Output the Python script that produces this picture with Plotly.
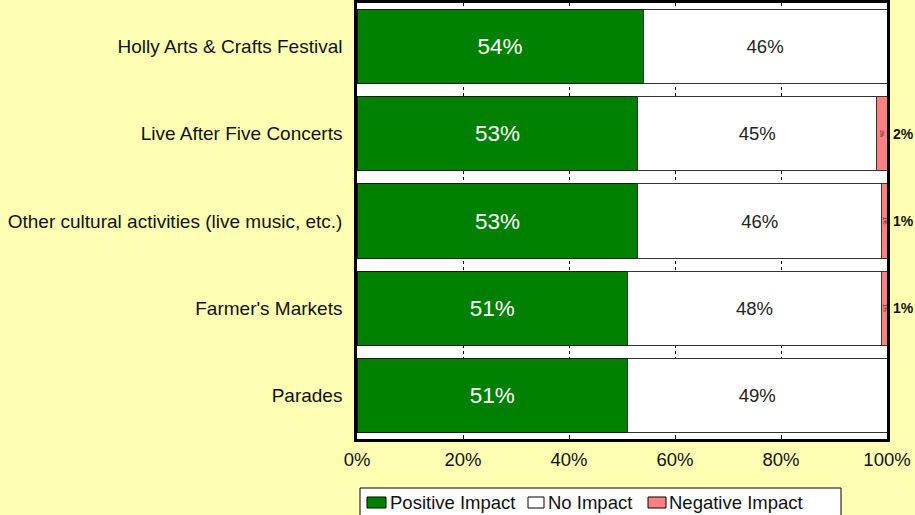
import plotly.graph_objects as go

categories = [
    "Holly Arts & Crafts Festival",
    "Live After Five Concerts",
    "Other cultural activities (live music, etc.)",
    "Farmer's Markets",
    "Parades",
]
positive = [54, 53, 53, 51, 51]
no_impact = [46, 45, 46, 48, 49]
negative = [0, 2, 1, 1, 0]
tick_vals = [0, 20, 40, 60, 80, 100]
tick_text = ["0%", "20%", "40%", "60%", "80%", "100%"]

series_names = ["Positive Impact", "No Impact", "Negative Impact"]
series_colors = ["#008000", "#FFFFFF", "#FF8080"]

FONT = "Liberation Sans, Arial, sans-serif"
W, H = 915, 515
M_L, M_R, M_T, M_B = 357, 28, 3, 76
PLOT_W = W - M_L - M_R
PLOT_H = H - M_T - M_B


def px(x):
    """Horizontal page pixel -> paper fraction."""
    return (x - M_L) / PLOT_W


def py(y):
    """Vertical page pixel (from top) -> paper fraction."""
    return (H - M_B - y) / PLOT_H


def labels(vals):
    return [f"{v}%" if v > 0 else "" for v in vals]


fig = go.Figure()
fig.add_trace(go.Bar(
    y=categories, x=positive, orientation="h", name=series_names[0],
    marker=dict(color=series_colors[0], line=dict(color="#1a1a1a", width=1)),
    text=labels(positive), textposition="inside", insidetextanchor="middle",
    textfont=dict(color="white", size=22.5, family=FONT),
    hoverinfo="skip",
))
fig.add_trace(go.Bar(
    y=categories, x=no_impact, orientation="h", name=series_names[1],
    marker=dict(color=series_colors[1], line=dict(color="#333333", width=1)),
    text=labels(no_impact), textposition="inside", insidetextanchor="middle",
    textfont=dict(color="#222222", size=18.5, family=FONT),
    hoverinfo="skip",
))
fig.add_trace(go.Bar(
    y=categories, x=negative, orientation="h", name=series_names[2],
    marker=dict(color=series_colors[2], line=dict(color="#333333", width=1)),
    text=labels(negative), textposition="inside", insidetextanchor="middle",
    textfont=dict(color="#222222", size=6, family=FONT),
    hoverinfo="skip",
))

# bold value callouts to the right of the plot for the negative share
for cat, v in zip(categories, negative):
    if v > 0:
        fig.add_annotation(
            x=1, xref="paper", y=cat, yref="y", text=f"<b>{v}%</b>",
            showarrow=False, xanchor="left", xshift=4,
            font=dict(size=14, color="#111111", family=FONT),
        )

# legend box drawn below the axis, running off the bottom edge
shapes = [dict(
    type="rect", xref="paper", yref="paper",
    x0=px(360), x1=px(841), y0=py(488), y1=py(525),
    fillcolor="white", line=dict(color="black", width=1), layer="above",
)]
key_left = [367, 528, 648]
key_width = [19, 16, 18]
text_left = [388, 546, 667]
for name, color, kx, kw, tx in zip(series_names, series_colors,
                                   key_left, key_width, text_left):
    shapes.append(dict(
        type="rect", xref="paper", yref="paper",
        x0=px(kx), x1=px(kx + kw), y0=py(508), y1=py(497),
        fillcolor=color, line=dict(color="black", width=1), layer="above",
    ))
    fig.add_annotation(
        x=px(tx), y=py(502), xref="paper", yref="paper", text=name,
        showarrow=False, xanchor="left", yanchor="middle",
        font=dict(size=18.5, color="#111111", family=FONT),
    )

fig.update_layout(
    barmode="stack",
    bargap=0.15,
    width=W, height=H,
    margin=dict(l=M_L, r=M_R, t=M_T, b=M_B, autoexpand=False),
    paper_bgcolor="#FFFFB4",
    plot_bgcolor="white",
    font=dict(family=FONT, size=16, color="#111111"),
    showlegend=False,
    shapes=shapes,
    xaxis=dict(
        range=[0, 100], tickvals=tick_vals, ticktext=tick_text,
        showgrid=True, gridcolor="black", griddash="dot", gridwidth=1,
        showline=True, linecolor="black", linewidth=2.5, mirror=True,
        ticks="inside", ticklen=4, tickcolor="black", ticklabelstandoff=2,
        tickfont=dict(size=18.5, family=FONT), zeroline=False,
    ),
    yaxis=dict(
        autorange="reversed", showline=True, linecolor="black",
        linewidth=2.5, mirror=True, ticks="", ticklabelstandoff=8,
        tickfont=dict(size=19, family=FONT),
    ),
)

fig.write_html("out.html")
